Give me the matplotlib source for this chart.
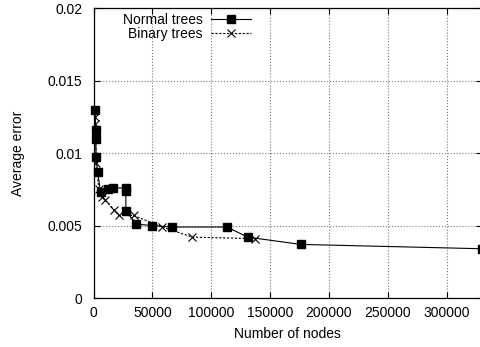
import matplotlib
matplotlib.use("Agg")
import matplotlib.pyplot as plt

plt.rcParams['font.family'] = ['Liberation Sans', 'DejaVu Sans']
plt.rcParams['font.size'] = 10

# normal trees (solid, squares)
normal_x = [1500, 1700, 1900, 2200, 3500, 6000, 12500, 16500, 27500, 27500,
            27500, 36500, 49500, 66500, 113500, 131000, 176000, 330000]
normal_y = [0.0130, 0.0116, 0.0110, 0.0097, 0.0087, 0.0073, 0.0075, 0.0076, 0.0076, 0.0074,
            0.0060, 0.0051, 0.0050, 0.0049, 0.0049, 0.0042, 0.0037, 0.0034]

# binary trees (dashed, crosses)
binary_x = [1200, 1400, 2500, 4500, 7500, 9500, 17500, 21500, 34000, 58500, 84000, 137500]
binary_y = [0.0125, 0.0120, 0.0093, 0.0075, 0.0070, 0.0068, 0.0061, 0.0057, 0.0057,
            0.0049, 0.0042, 0.0041]

fig = plt.figure(figsize=(4.8, 3.47), dpi=100)
ax = fig.add_axes([93.5 / 480, 49 / 347, (482 - 93.5) / 480, (298 - 8.3) / 347])

ax.plot(normal_x, normal_y, '-', color='black', lw=0.8, marker='s', markersize=6,
        label='Normal trees', clip_on=False)
ax.plot(binary_x, binary_y, '--', color='black', lw=0.8, marker='x', markersize=5.5,
        markeredgewidth=0.8, dashes=(2, 1.5), label='Binary trees')

ax.set_xlim(0, 330000)
ax.set_ylim(0, 0.02)
ax.set_xticks([0, 50000, 100000, 150000, 200000, 250000, 300000])
ax.set_xticklabels(['0', '50000', '100000', '150000', '200000', '250000', '300000'])
ax.set_yticks([0, 0.005, 0.01, 0.015, 0.02])
ax.set_yticklabels(['0', '0.005', '0.01', '0.015', '0.02'])

ax.grid(True, linestyle=':', color='#777777', lw=0.8)
ax.tick_params(direction='in', top=True, right=True, length=4, width=0.8)
ax.tick_params(axis='x', pad=6)
ax.tick_params(axis='y', pad=8)
for s in ax.spines.values():
    s.set_linewidth(0.9)

ax.set_xlabel('Number of nodes', labelpad=5)
ax.set_ylabel('Average error', labelpad=16)

ax.legend(loc='upper right', bbox_to_anchor=(251 / 480, 1 - 13 / 347),
          bbox_transform=fig.transFigure, frameon=False, markerfirst=False,
          handlelength=2.9, handletextpad=0.6, labelspacing=-0.03, borderpad=0,
          borderaxespad=0)

fig.savefig('out.png', dpi=100)
